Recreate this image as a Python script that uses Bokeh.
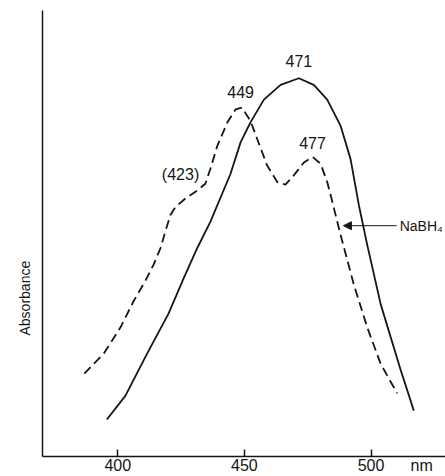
from bokeh.plotting import figure
from bokeh.models import Range1d, FixedTicker, Arrow, NormalHead, Title
from bokeh.core.properties import value
from bokeh.embed import file_html
from bokeh.resources import INLINE

# ---- data (wavelength in nm, absorbance in arbitrary units) ----
wavelength_solid = [395.7, 403.0, 411.6, 420.0, 426.1, 431.4, 436.6, 444.5, 448.5, 452.4,
                    457.7, 464.3, 471.5, 477.4, 482.7, 488.0, 491.9, 495.2, 498.5, 503.8,
                    511.7, 516.9]
absorbance_solid = [0.083, 0.136, 0.231, 0.320, 0.401, 0.468, 0.527, 0.634, 0.705, 0.750,
                    0.801, 0.834, 0.849, 0.834, 0.801, 0.742, 0.668, 0.564, 0.475, 0.342,
                    0.194, 0.103]

wavelength_dashed = [386.8, 394.5, 401.1, 406.3, 410.9, 414.2, 416.9, 418.8, 420.8, 422.8,
                     426.7, 430.7, 434.6, 436.6, 439.3, 443.2, 446.5, 449.1, 452.4, 455.1,
                     459.0, 463.0, 466.2, 469.5, 473.5, 477.0, 480.1, 482.7, 484.4, 488.0,
                     493.2, 498.5, 503.8, 510.3]
absorbance_dashed = [0.186, 0.231, 0.290, 0.349, 0.394, 0.431, 0.468, 0.505, 0.542, 0.560,
                     0.579, 0.594, 0.612, 0.646, 0.697, 0.749, 0.779, 0.783, 0.753, 0.712,
                     0.653, 0.616, 0.610, 0.631, 0.660, 0.672, 0.657, 0.616, 0.579, 0.497,
                     0.386, 0.290, 0.208, 0.142]

peak_labels = ["471", "449", "477", "(423)"]
peak_label_x = [471.5, 448.5, 476.9, 424.8]
peak_label_y = [0.888, 0.818, 0.703, 0.632]

x_ticks = [400, 450, 500]
x_unit = "nm"
x_unit_pos = 520
y_title = "Absorbance"
arrow_label = "NaBH\u2084"

INK = "#151515"
FONT = "Liberation Sans"

p = figure(width=445, height=476, output_backend="svg", toolbar_location=None,
           x_range=Range1d(370.3, 529.4), y_range=Range1d(0, 1.001),
           min_border_left=42, min_border_right=0, min_border_top=10, min_border_bottom=16,
           background_fill_color="white", border_fill_color="white")
p.outline_line_color = None
p.grid.visible = False

p.line(wavelength_solid, absorbance_solid, line_color=INK, line_width=1.8, line_join="round")
p.line(wavelength_dashed, absorbance_dashed, line_color=INK, line_width=1.8,
       line_dash="9 5", line_join="round")

p.text(x=peak_label_x, y=peak_label_y, text=peak_labels, text_font=value(FONT),
       text_font_size="16px", text_align="center", text_baseline="middle", text_color=INK)

p.text(x=[511.3], y=[0.518], text=[arrow_label], text_font=value(FONT),
       text_font_size="14px", text_align="left", text_baseline="middle", text_color=INK)
p.add_layout(Arrow(end=NormalHead(size=8, fill_color=INK, line_color=INK, line_width=1),
                   x_start=510.1, y_start=0.518, x_end=489.1, y_end=0.518,
                   line_color=INK, line_width=1))

# x axis: labelled major ticks (incl. the unit "nm"), visible marks drawn as minor ticks
xa = p.xaxis[0]
xa.ticker = FixedTicker(ticks=x_ticks + [x_unit_pos], minor_ticks=x_ticks)
xa.major_label_overrides = {x_unit_pos: x_unit}
xa.major_tick_in = 0
xa.major_tick_out = 0
xa.minor_tick_in = 7
xa.minor_tick_out = 0
xa.minor_tick_line_color = INK
xa.minor_tick_line_width = 1.5
xa.axis_line_color = INK
xa.axis_line_width = 1.5
xa.major_label_text_font = FONT
xa.major_label_text_font_size = "16px"
xa.major_label_text_color = INK
xa.major_label_standoff = 0

# y axis: bare line
ya = p.yaxis[0]
ya.ticker = FixedTicker(ticks=[])
ya.major_label_text_font_size = "0px"
ya.major_tick_in = 0
ya.major_tick_out = 0
ya.minor_tick_in = 0
ya.minor_tick_out = 0
ya.axis_line_color = INK
ya.axis_line_width = 1.5

p.add_layout(Title(text=y_title, align="left", offset=121, standoff=20,
                   text_font=FONT, text_font_style="normal", text_font_size="14px",
                   text_color=INK), "left")

open("out.html", "w").write(file_html(p, INLINE))
